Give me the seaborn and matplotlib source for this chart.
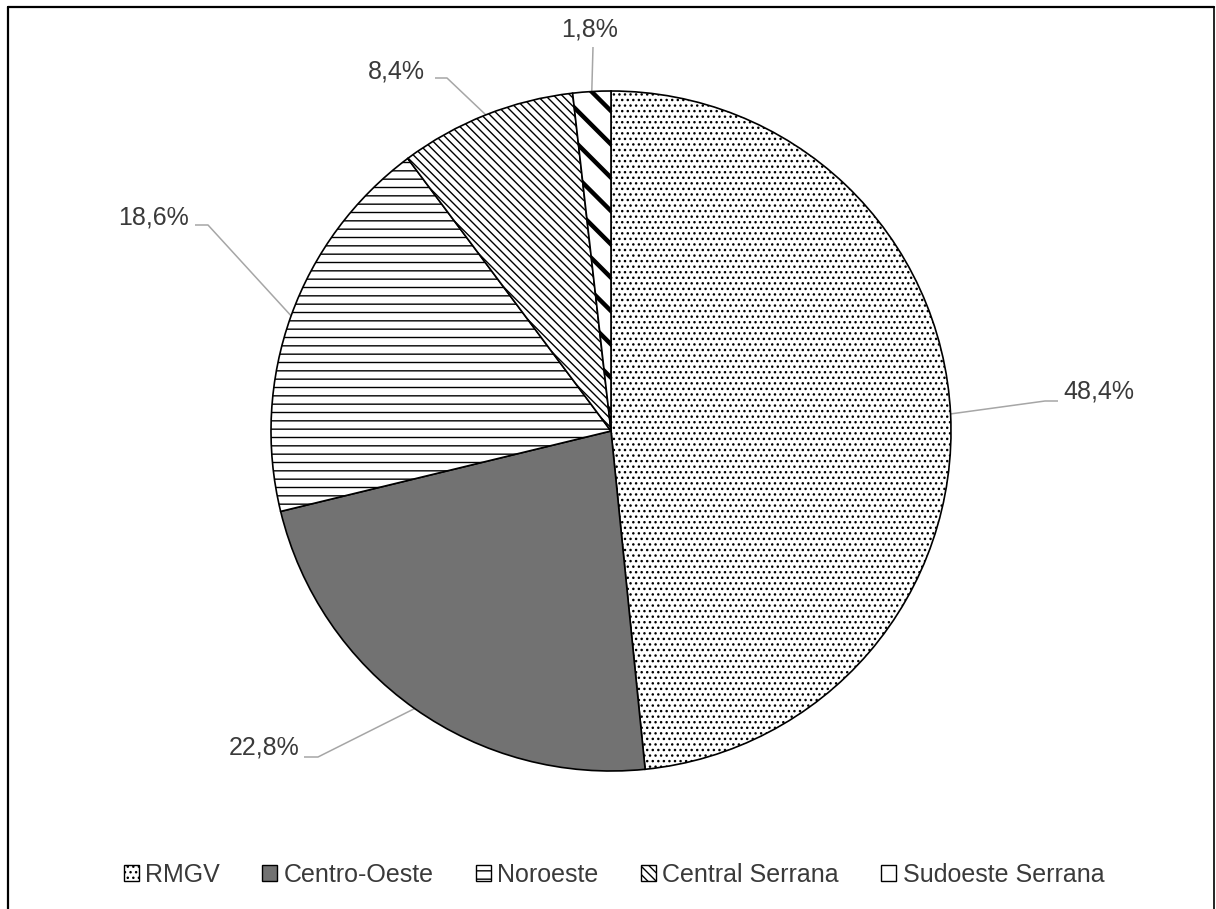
import matplotlib
matplotlib.use("Agg")
import matplotlib.pyplot as plt
import seaborn as sns
import numpy as np
from matplotlib.patches import Patch
from matplotlib.lines import Line2D

# ---- data ----
categories = ["RMGV", "Centro-Oeste", "Noroeste", "Central Serrana", "Sudoeste Serrana"]
values = [48.4, 22.8, 18.6, 8.4, 1.8]
labels = [f"{v:.1f}%".replace(".", ",") for v in values]

# ---- styles ----
hatches = ["...", "", "--", "\\\\\\\\", "\\"]
faces = ["white", "#727272", "white", "white", "white"]
hatch_lw = [1.0, 1.0, 1.0, 1.0, 3.2]
text_color = "#3a3a3a"
leader_color = "#a6a6a6"

sns.set_theme(style="white")
plt.rcParams["font.family"] = ["Liberation Sans", "DejaVu Sans"]

W, H = 1216, 909
fig = plt.figure(figsize=(W / 100, H / 100), dpi=100)
ax = fig.add_axes([0, 0, 1, 1])

cx, cy, R = 611, 431, 340  # pie centre / radius in pixels


def px(x, y):
    return ((x - cx) / R, (cy - y) / R)


wedges, _ = ax.pie(values, startangle=90, counterclock=False, radius=1.0,
                   wedgeprops=dict(edgecolor="black", linewidth=1.2))
for w, h, f, hl in zip(wedges, hatches, faces, hatch_lw):
    w.set_facecolor(f)
    if h:
        w.set_hatch(h)
    if hasattr(w, "set_hatch_linewidth"):
        w.set_hatch_linewidth(hl)
    else:
        w._hatch_linewidth = hl

ax.set_aspect("auto")
ax.set_xlim((0 - cx) / R, (W - cx) / R)
ax.set_ylim((cy - H) / R, (cy - 0) / R)
ax.axis("off")

# label layout (pixel positions): text anchor, alignment, elbow, end
layout = [
    dict(t=(1063, 392), ha="left", elbow=(1045, 401), end=(1058, 401)),
    dict(t=(299, 748), ha="right", elbow=(318, 757), end=(304, 757)),
    dict(t=(189, 218), ha="right", elbow=(208, 225), end=(195, 225)),
    dict(t=(425, 71), ha="right", elbow=(447, 78), end=(435, 78)),
    dict(t=(590, 29), ha="center", elbow=(593, 47), end=(593, 47)),
]

for w, lab, L in zip(wedges, labels, layout):
    mid = np.deg2rad((w.theta1 + w.theta2) / 2)
    sx, sy = w.r * np.cos(mid), w.r * np.sin(mid)
    ex, ey = px(*L["elbow"])
    fx, fy = px(*L["end"])
    ax.plot([sx, ex, fx], [sy, ey, fy], color=leader_color, lw=1.1,
            solid_capstyle="butt", zorder=0.5)
    tx, ty = px(*L["t"])
    ax.text(tx, ty, lab, ha=L["ha"], va="center", fontsize=18, color=text_color)

handles = [Patch(facecolor=f, edgecolor="black", hatch=h if h else None, linewidth=1.0)
           for f, h in zip(faces, hatches)]
leg = fig.legend(handles, categories, loc="center", ncol=5,
                 bbox_to_anchor=(614 / W, 1 - 875 / H), frameon=False,
                 fontsize=18, handlelength=0.6, handleheight=0.6,
                 handletextpad=0.25, columnspacing=1.7, labelcolor=text_color)

# outer chart frame
fig.add_artist(Line2D([8 / W, 8 / W], [0, 1 - 7 / H], color="black", lw=1.6,
                      transform=fig.transFigure))
fig.add_artist(Line2D([8 / W, 1214 / W], [1 - 7 / H, 1 - 7 / H], color="black", lw=1.6,
                      transform=fig.transFigure))
fig.add_artist(Line2D([1214 / W, 1214 / W], [0, 1 - 7 / H], color="black", lw=1.2,
                      transform=fig.transFigure))

fig.savefig("out.png", dpi=100)
